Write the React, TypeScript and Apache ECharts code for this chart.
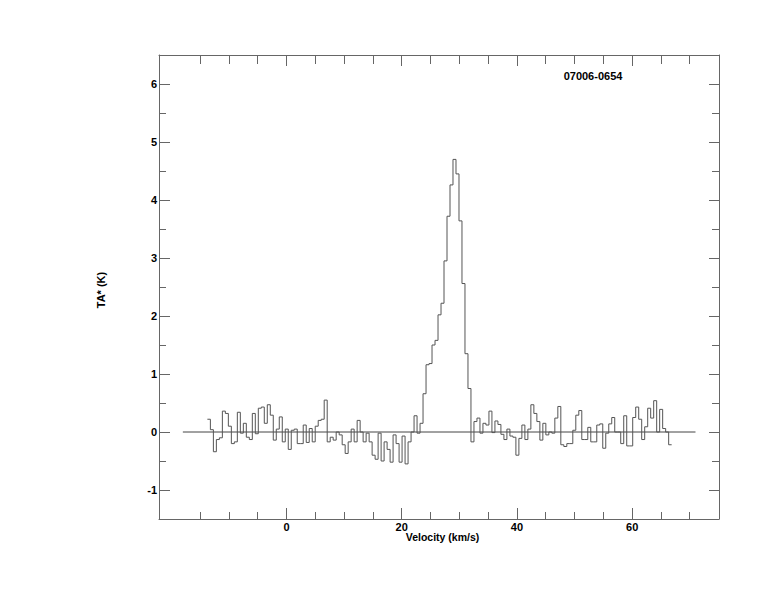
import React, { useEffect, useRef } from "react";
import * as echarts from "echarts";

// Spectrum channels: start velocity of first channel and channel width (km/s)
const V_START = -13.74;
const CHANNEL_WIDTH = 0.52;

// Antenna temperature TA* (K) per channel
const TA = [
  0.22, 0.04, -0.34, -0.13, -0.1, 0.36, 0.32, 0.1, -0.2, -0.17,
  0.34, -0.02, 0.15, -0.09, -0.13, 0.32, -0.03, 0.41, 0.43, 0.15,
  0.47, 0.29, -0.14, 0.05, 0.26, -0.17, 0.05, -0.3, 0.03, 0.05,
  -0.2, -0.2, 0.12, -0.18, 0.06, -0.17, 0.1, 0.2, 0.22, 0.55,
  -0.17, -0.09, -0.14, 0.0, -0.05, -0.22, -0.37, -0.17, 0.05, -0.17,
  0.2, 0.0, -0.17, -0.02, -0.17, -0.4, -0.47, -0.02, -0.5, -0.17,
  -0.3, -0.52, -0.05, -0.2, -0.52, -0.07, -0.55, -0.17, 0.0, 0.28,
  -0.02, 0.15, 0.66, 1.16, 1.18, 1.5, 1.58, 2.02, 2.22, 2.95,
  3.72, 4.26, 4.7, 4.45, 3.64, 2.56, 1.35, 0.75, -0.17, 0.18,
  0.24, -0.02, 0.15, 0.12, 0.36, -0.01, 0.19, 0.13, -0.04, -0.13,
  0.05, -0.07, -0.09, -0.4, -0.11, 0.12, -0.13, 0.05, 0.47, 0.32,
  0.18, -0.14, 0.15, -0.05, 0.0, -0.02, 0.24, 0.44, -0.22, -0.25,
  -0.2, -0.2, 0.03, 0.29, 0.37, -0.13, -0.13, 0.08, -0.17, -0.17,
  0.12, 0.14, -0.28, -0.02, 0.14, 0.25, 0.0, 0.0, -0.2, 0.28,
  -0.24, -0.24, 0.25, 0.43, 0.22, -0.13, 0.09, 0.41, 0.24, 0.54,
  0.0, 0.39, 0.06, 0.0, -0.22,
];

const X_RANGE = [-22.14, 75.08];
const Y_RANGE = [-1.5, 6.5];
const X_MAJOR = [0, 20, 40, 60];
const X_MINOR = [-15, -10, -5, 5, 10, 15, 25, 30, 35, 45, 50, 55, 65, 70];
const Y_MAJOR = [-1, 0, 1, 2, 3, 4, 5, 6];
const Y_MINOR = [-0.5, 0.5, 1.5, 2.5, 3.5, 4.5, 5.5];
const BASELINE_X = [-18, 71];

const SOURCE_NAME = "07006-0654";
const X_TITLE = "Velocity (km/s)";
const Y_TITLE = "TA* (K)";

const FONT = "Liberation Sans, Arial, Helvetica, sans-serif";
const AXIS_COLOR = "#666";

function xAxis(position: string, ticks: number[], len: number, showLine: boolean, labels: boolean) {
  return {
    type: "value",
    position,
    min: X_RANGE[0],
    max: X_RANGE[1],
    axisLine: { show: showLine, onZero: false, lineStyle: { color: AXIS_COLOR, width: 1 } },
    axisTick: { show: true, inside: true, length: len, customValues: ticks, lineStyle: { color: AXIS_COLOR, width: 1 } },
    axisLabel: labels
      ? { show: true, customValues: ticks, margin: 2, fontFamily: FONT, fontWeight: "bold", fontSize: 11, color: "#000" }
      : { show: false },
    splitLine: { show: false },
  };
}

function yAxis(position: string, ticks: number[], len: number, showLine: boolean, labels: boolean) {
  return {
    type: "value",
    position,
    min: Y_RANGE[0],
    max: Y_RANGE[1],
    axisLine: { show: showLine, onZero: false, lineStyle: { color: AXIS_COLOR, width: 1 } },
    axisTick: { show: true, inside: true, length: len, customValues: ticks, lineStyle: { color: AXIS_COLOR, width: 1 } },
    axisLabel: labels
      ? { show: true, customValues: ticks, margin: 2, fontFamily: FONT, fontWeight: "bold", fontSize: 11, color: "#000" }
      : { show: false },
    splitLine: { show: false },
  };
}

export default function App() {
  const ref = useRef<HTMLDivElement>(null);

  useEffect(() => {
    if (!ref.current) return;
    const chart = echarts.init(ref.current, null, { renderer: "svg" });

    const stepData: number[][] = TA.map((t, i) => [V_START + i * CHANNEL_WIDTH, t]);
    stepData.push([V_START + TA.length * CHANNEL_WIDTH, TA[TA.length - 1]]);

    const textStyle = { fontFamily: FONT, fontWeight: "bold", fontSize: 11, fill: "#000" };

    chart.setOption({
      animation: false,
      backgroundColor: "#fff",
      grid: { left: 159, top: 55, right: 55, bottom: 93, containLabel: false },
      xAxis: [
        xAxis("bottom", X_MAJOR, 11, true, true),
        xAxis("bottom", X_MINOR, 7, false, false),
        xAxis("top", X_MAJOR, 11, true, false),
        xAxis("top", X_MINOR, 9, false, false),
      ],
      yAxis: [
        yAxis("left", Y_MAJOR, 11, true, true),
        yAxis("left", Y_MINOR, 7, false, false),
        yAxis("right", Y_MAJOR, 10, true, false),
        yAxis("right", Y_MINOR, 7, false, false),
      ],
      series: [
        {
          type: "line",
          xAxisIndex: 0,
          yAxisIndex: 0,
          data: BASELINE_X.map((x) => [x, 0]),
          symbol: "none",
          lineStyle: { color: "#444", width: 1 },
          silent: true,
        },
        {
          type: "line",
          xAxisIndex: 0,
          yAxisIndex: 0,
          step: "end",
          data: stepData,
          symbol: "none",
          lineStyle: { color: "#555", width: 1 },
          silent: true,
        },
      ],
      graphic: [
        {
          type: "text",
          x: 442.5,
          y: 537,
          style: { ...textStyle, fontSize: 10.5, text: X_TITLE, align: "center", verticalAlign: "middle" },
        },
        {
          type: "text",
          x: 101,
          y: 290,
          rotation: Math.PI / 2,
          style: { ...textStyle, text: Y_TITLE, align: "center", verticalAlign: "middle" },
        },
        {
          type: "text",
          x: 593,
          y: 75.5,
          style: { ...textStyle, text: SOURCE_NAME, align: "center", verticalAlign: "middle" },
        },
      ],
    });

    return () => chart.dispose();
  }, []);

  return (
    <div
      ref={ref}
      style={{ position: "absolute", left: 0, top: 0, width: 774, height: 612, background: "#fff" }}
    />
  );
}
